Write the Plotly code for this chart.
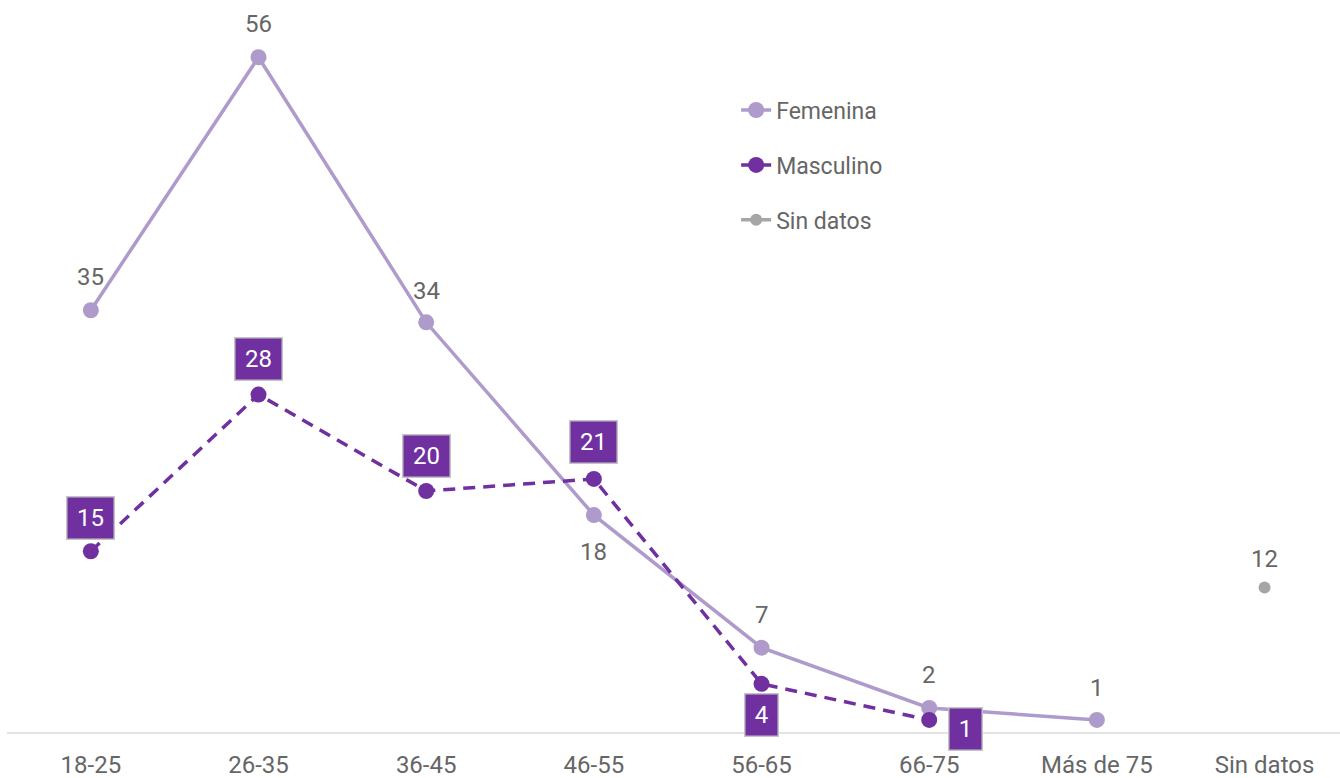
import plotly.graph_objects as go

categorias = ["18-25", "26-35", "36-45", "46-55", "56-65", "66-75", "Más de 75", "Sin datos"]
femenina = [35, 56, 34, 18, 7, 2, 1, None]
masculino = [15, 28, 20, 21, 4, 1, None, None]
sin_datos = [None, None, None, None, None, None, None, 12]

# label offsets (px) - styling only
fem_shift = [33, 33, 31, -37, 33, 33, 32, 0]
masc_shift = [(0, 33), (0, 36), (0, 35), (0, 37), (0, -31), (36, -9)]

C_FEM = "#ae9bcc"
C_MASC = "#7030a0"
C_SD = "#a6a6a6"
TXT = "#666666"
FONT = "Roboto"

fig = go.Figure()
fig.add_trace(go.Scatter(x=categorias, y=femenina, name="Femenina", mode="lines+markers",
                         line=dict(color=C_FEM, width=3.5), marker=dict(size=16, color=C_FEM),
                         legendgroup="a"))
fig.add_trace(go.Scatter(x=categorias, y=masculino, name="Masculino", mode="lines+markers",
                         line=dict(color=C_MASC, width=3.5, dash="12px,8px"),
                         marker=dict(size=16, color=C_MASC), legendgroup="b"))
fig.add_trace(go.Scatter(x=categorias, y=sin_datos, name="Sin datos", mode="lines+markers",
                         line=dict(color=C_SD, width=3.5), marker=dict(size=12, color=C_SD),
                         legendgroup="c"))

for i, v in enumerate(femenina):
    if v is None:
        continue
    fig.add_annotation(x=categorias[i], y=v, text=str(v), showarrow=False,
                       yshift=fem_shift[i], font=dict(family=FONT, size=24, color=TXT))
fig.add_annotation(x=categorias[7], y=sin_datos[7], text=str(sin_datos[7]), showarrow=False,
                   yshift=28, font=dict(family=FONT, size=24, color=TXT))

for i, v in enumerate(masculino):
    if v is None:
        continue
    dx, dy = masc_shift[i]
    fig.add_annotation(x=categorias[i], y=v, text=str(v), showarrow=False,
                       xshift=dx, yshift=dy, width=34 if v >= 10 else 20, height=29,
                       borderpad=6, bgcolor=C_MASC, bordercolor="#c4c4c4", borderwidth=1.5,
                       font=dict(family=FONT, size=24, color="white"))

fig.update_layout(
    width=1340, height=778,
    margin=dict(l=7, r=0, t=0, b=46),
    paper_bgcolor="white", plot_bgcolor="white",
    font=dict(family=FONT, color=TXT),
    showlegend=True,
    legend=dict(x=0.547, y=0.879, xanchor="left", yanchor="top",
                font=dict(family=FONT, size=23, color=TXT),
                tracegroupgap=22, traceorder="grouped", bgcolor="rgba(0,0,0,0)"),
    xaxis=dict(type="category", range=[-0.5, 7.45], showgrid=False, zeroline=False,
               showline=True, linecolor="#e3e3e3", linewidth=1.5, ticks="",
               tickfont=dict(family=FONT, size=24, color=TXT), ticklabelstandoff=10),
    yaxis=dict(range=[0, 60.75], visible=False, showgrid=False, zeroline=False),
)

fig.write_html("out.html", config={"displayModeBar": False},
               post_script="document.body.style.margin='0';document.body.style.overflow='hidden';")
